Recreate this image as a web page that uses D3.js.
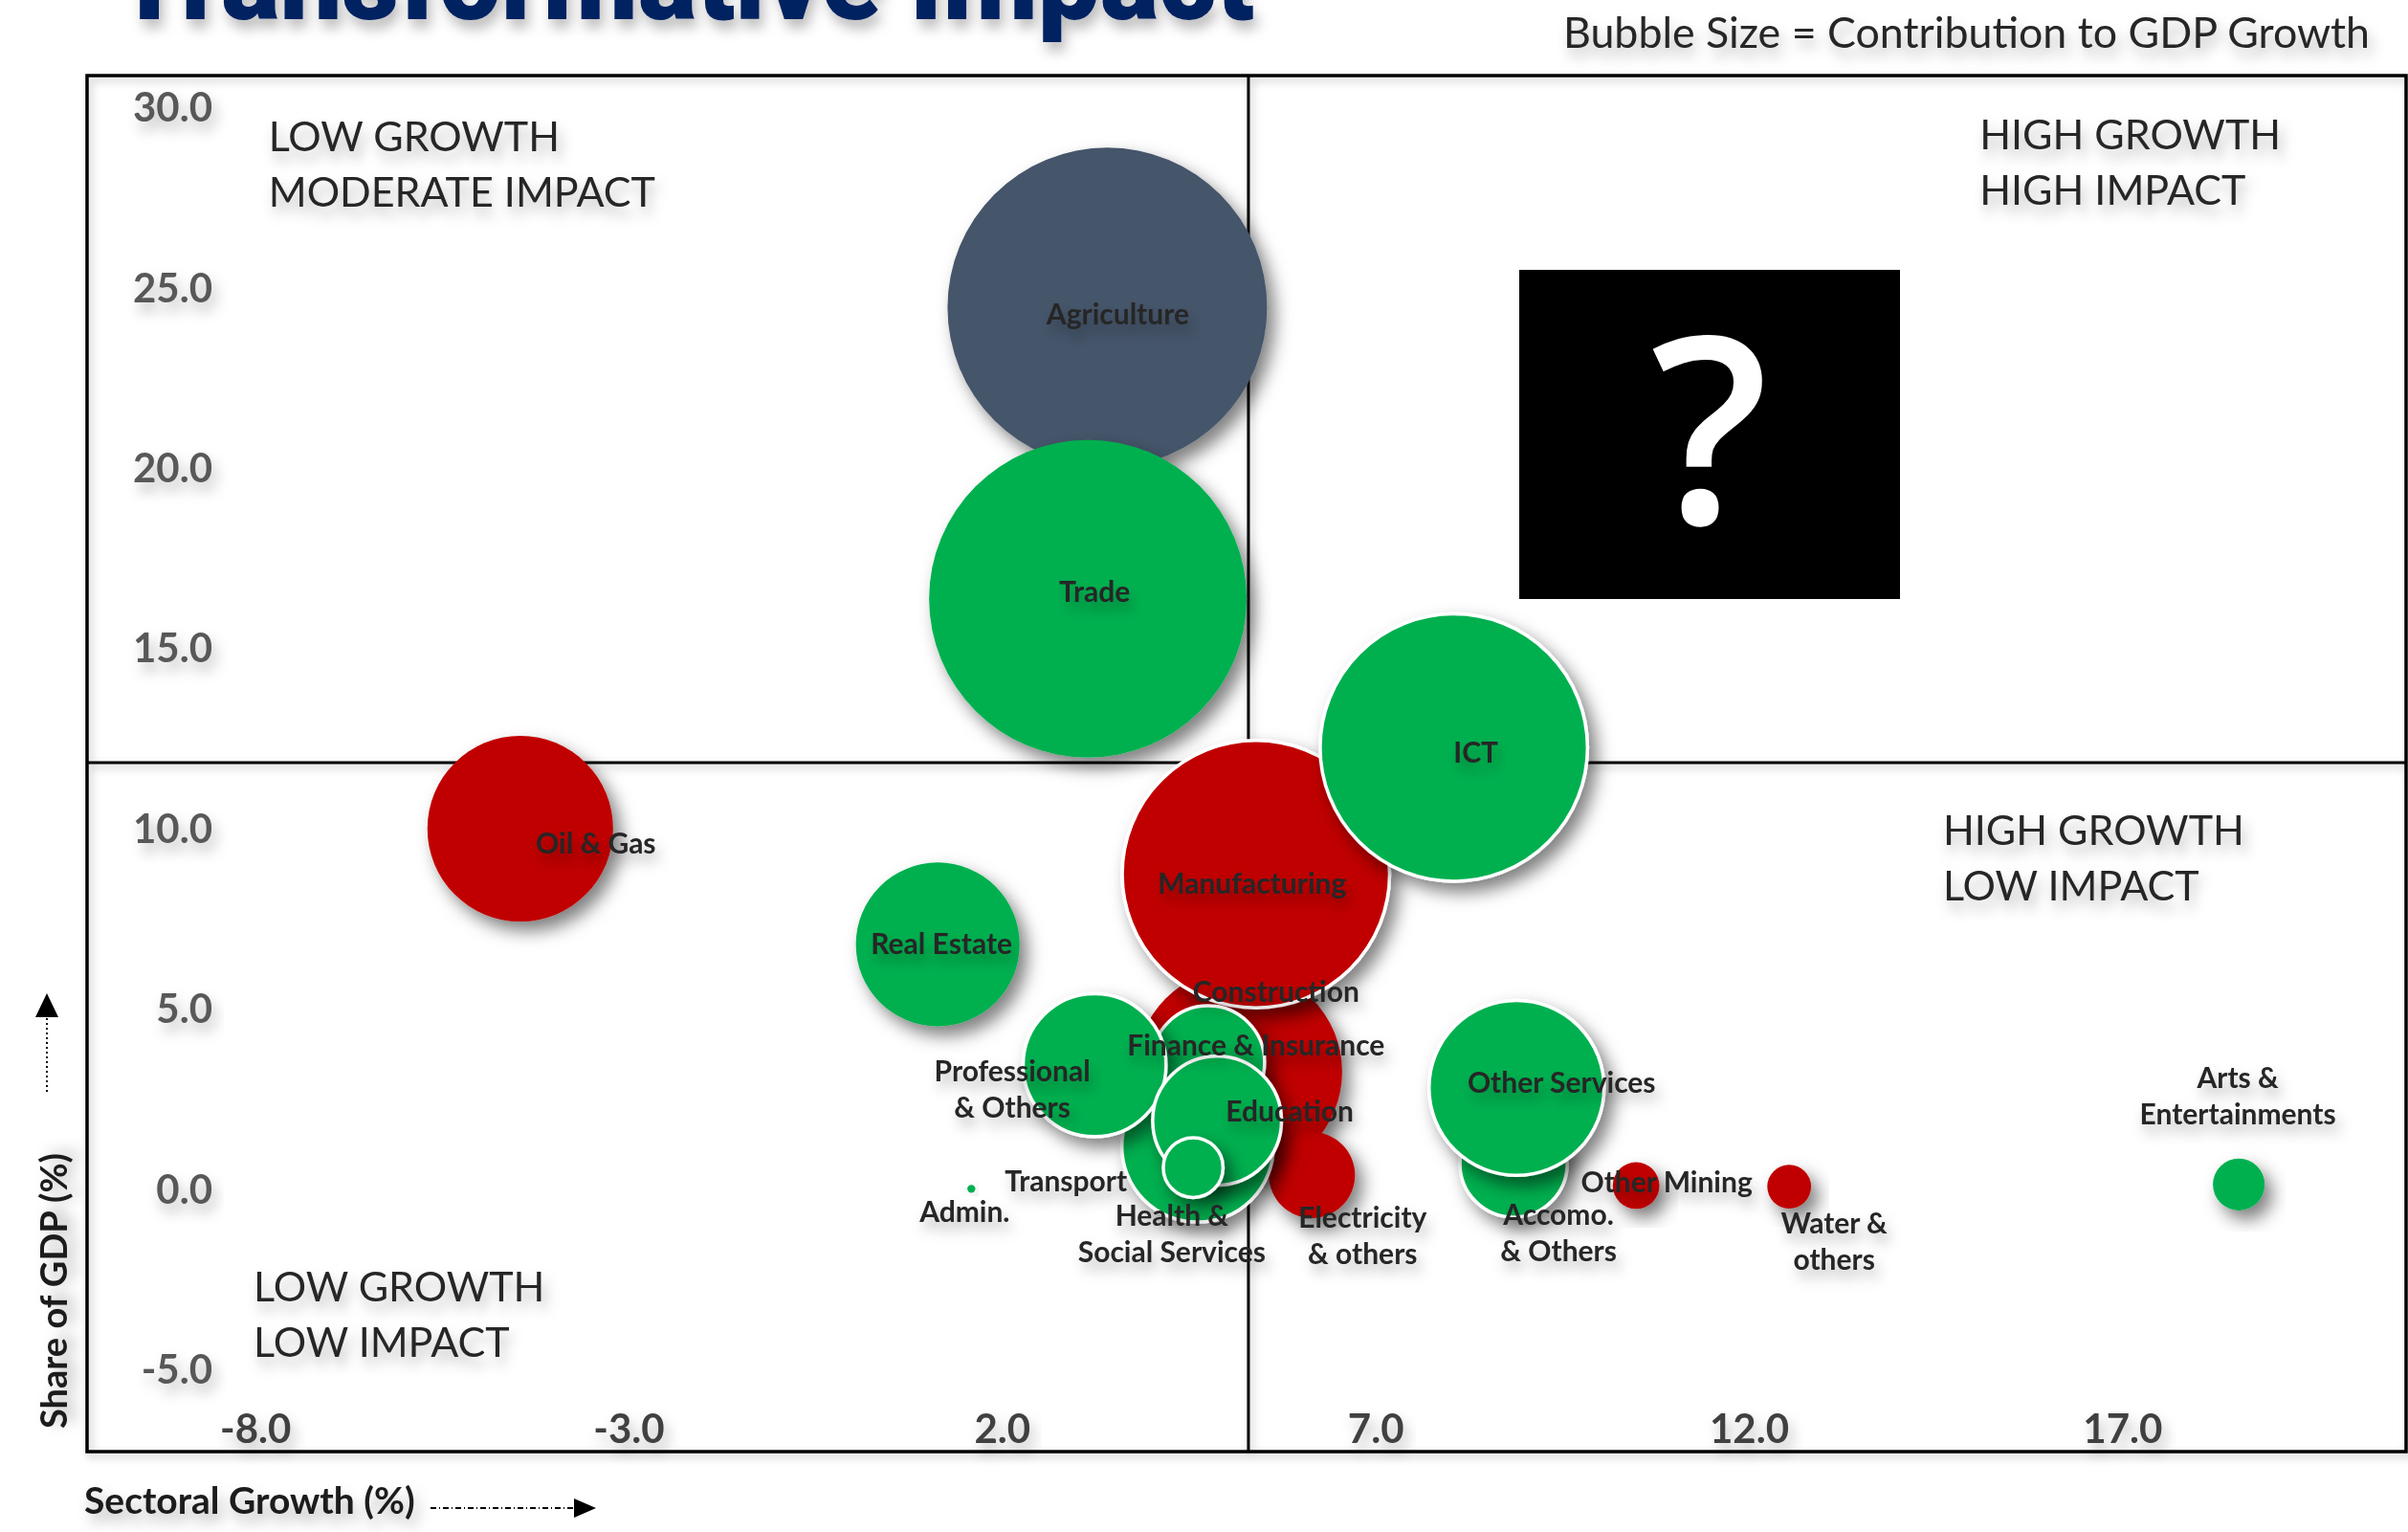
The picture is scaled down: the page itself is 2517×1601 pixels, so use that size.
<!DOCTYPE html>
<html>
<head>
<meta charset="utf-8">
<script src="https://cdn.jsdelivr.net/npm/d3@7"></script>
<style>
  html, body { margin: 0; padding: 0; background: #ffffff; }
  svg { display: block; }
</style>
</head>
<body>
<svg id="chart" width="2517" height="1601"></svg>
<script>
// Sectors, their growth (%), share of GDP (%) and contribution to GDP growth (bubble size)
const sectors = [
  "Agriculture", "Trade", "Oil & Gas", "Real Estate", "Construction", "Electricity & others",
  "Manufacturing", "ICT", "Health & Social Services", "Finance & Insurance",
  "Professional & Others", "Education", "Transport", "Admin.", "Accomo. & Others",
  "Other Services", "Other Mining", "Water & others", "Arts & Entertainments"
];
const labelLines = [
  ["Agriculture"], ["Trade"], ["Oil & Gas"], ["Real Estate"], ["Construction"], ["Electricity", "& others"],
  ["Manufacturing"], ["ICT"], ["Health &", "Social Services"], ["Finance & Insurance"],
  ["Professional", "& Others"], ["Education"], ["Transport"], ["Admin."], ["Accomo.", "& Others"],
  ["Other Services"], ["Other Mining"], ["Water &", "others"], ["Arts &", "Entertainments"]
];
const sectoralGrowth = [3.41, 3.15, -4.45, 1.14, 5.17, 6.15, 5.40, 8.05, 4.62, 4.76, 3.24, 4.88, 4.56, 1.59, 8.85, 8.89, 10.49, 12.54, 18.56];
const shareOfGDP     = [24.45, 16.37, 9.99, 6.78, 3.25, 0.38, 8.73, 12.24, 1.18, 3.51, 3.43, 1.89, 0.59, 0.00, 0.70, 2.80, 0.09, 0.06, 0.12];
const contribution   = [0.80, 0.79, 0.27, 0.21, 0.335, 0.058, 0.56, 0.56, 0.18, 0.10, 0.16, 0.13, 0.028, 0.0005, 0.09, 0.24, 0.017, 0.015, 0.021];
const sectorGroup    = ["primary", "services", "industry", "services", "industry", "industry", "industry", "services", "services", "services",
                        "services", "services", "services", "services", "services", "services", "industry", "industry", "services"];

// Axis ticks and quadrant dividers
const xTickValues = [-8, -3, 2, 7, 12, 17];
const yTickValues = [-5, 0, 5, 10, 15, 20, 25, 30];
const growthDivider = 5.30;
const shareDivider = 11.82;

const quadrantNames = [
  { lines: ["LOW GROWTH", "MODERATE IMPACT"], g: -7.82, s: 29.18 },
  { lines: ["HIGH GROWTH", "HIGH IMPACT"],    g: 15.09, s: 29.24 },
  { lines: ["HIGH GROWTH", "LOW IMPACT"],     g: 14.60, s: 9.94 },
  { lines: ["LOW GROWTH", "LOW IMPACT"],      g: -8.02, s: -2.72 }
];

// ---- styling / layout ----
const W = 2517, H = 1601;
const plot = { left: 91, top: 79, right: 2515, bottom: 1517 };
const groupFill = { primary: "#44546A", services: "#00B050", industry: "#C00000" };
const outlined = new Set(["Manufacturing", "ICT", "Health & Social Services", "Finance & Insurance",
  "Professional & Others", "Education", "Transport", "Accomo. & Others", "Other Services"]);
// label placement relative to bubble centre (px)
const labelNudge = {
  "Agriculture": [11, 7], "Trade": [7, -7], "ICT": [23, 5], "Manufacturing": [-4, 10],
  "Oil & Gas": [79, 15], "Real Estate": [4, 0], "Construction": [39, -83],
  "Finance & Insurance": [50, -18], "Professional & Others": [-86, 25], "Education": [76, -10],
  "Transport": [-133, 14], "Admin.": [-7, 24], "Health & Social Services": [-27, 92],
  "Electricity & others": [53, 63], "Other Services": [47, -5], "Accomo. & Others": [47, 73],
  "Other Mining": [32, -3], "Water & others": [47, 57], "Arts & Entertainments": [-1, -92]
};
const labelFont = "Lato, 'Open Sans', 'Noto Sans', sans-serif";

const data = sectors.map((name, i) => ({
  name, lines: labelLines[i], growth: sectoralGrowth[i], share: shareOfGDP[i],
  size: contribution[i], group: sectorGroup[i]
}));

const x = d3.scaleLinear().domain([-10.25, 20.8]).range([plot.left, plot.right]);
const y = d3.scaleLinear().domain([-7.29, 30.88]).range([plot.bottom, plot.top]);
const r = d3.scaleSqrt().domain([0, 0.80]).range([0, 167]);

const svg = d3.select("#chart");
const defs = svg.append("defs");
defs.append("filter").attr("id", "bubbleShadow")
  .attr("x", "-40%").attr("y", "-40%").attr("width", "180%").attr("height", "180%")
  .append("feDropShadow").attr("dx", 8).attr("dy", 10).attr("stdDeviation", 9)
  .attr("flood-color", "#000").attr("flood-opacity", 0.5);
defs.append("filter").attr("id", "textShadow")
  .attr("x", "-20%").attr("y", "-60%").attr("width", "140%").attr("height", "260%")
  .append("feDropShadow").attr("dx", 4).attr("dy", 9).attr("stdDeviation", 7)
  .attr("flood-color", "#000").attr("flood-opacity", 0.28);
defs.append("filter").attr("id", "lineShadow")
  .attr("x", "-5%").attr("y", "-5%").attr("width", "110%").attr("height", "110%")
  .append("feDropShadow").attr("dx", 3).attr("dy", 4).attr("stdDeviation", 4)
  .attr("flood-color", "#000").attr("flood-opacity", 0.25);

svg.append("rect").attr("width", W).attr("height", H).attr("fill", "#ffffff");

// Title (runs off the top edge)
svg.append("text")
  .attr("x", 120).attr("y", 20)
  .attr("textLength", 1191).attr("lengthAdjust", "spacingAndGlyphs")
  .attr("font-family", "Roboto, 'Liberation Sans', sans-serif")
  .attr("font-weight", 900).attr("font-size", 118)
  .attr("fill", "#002060")
  .attr("filter", "url(#textShadow)")
  .text("Transformative Impact");

svg.append("text")
  .attr("x", 1634).attr("y", 50)
  .attr("textLength", 843).attr("lengthAdjust", "spacingAndGlyphs")
  .attr("font-family", labelFont).attr("font-size", 44)
  .attr("fill", "#262626")
  .attr("filter", "url(#textShadow)")
  .text("Bubble Size = Contribution  to GDP Growth");

// Plot frame and quadrant dividers
const frame = svg.append("g").attr("filter", "url(#lineShadow)");
frame.append("rect")
  .attr("x", plot.left).attr("y", plot.top)
  .attr("width", plot.right - plot.left).attr("height", plot.bottom - plot.top)
  .attr("fill", "none").attr("stroke", "#000").attr("stroke-width", 3.5);
frame.append("line")
  .attr("x1", x(growthDivider)).attr("x2", x(growthDivider))
  .attr("y1", plot.top).attr("y2", plot.bottom)
  .attr("stroke", "#000").attr("stroke-width", 3);
frame.append("line")
  .attr("x1", plot.left).attr("x2", plot.right)
  .attr("y1", y(shareDivider)).attr("y2", y(shareDivider))
  .attr("stroke", "#000").attr("stroke-width", 3);

// Axes: labels sit inside the plot area
const xAxis = svg.append("g")
  .attr("transform", `translate(0, ${y(-6.65)})`)
  .call(d3.axisBottom(x).tickValues(xTickValues).tickSize(0).tickPadding(0).tickFormat(d => d.toFixed(1)));
xAxis.select(".domain").remove();
xAxis.selectAll("text")
  .attr("y", 0).attr("dy", "0.35em")
  .attr("font-family", labelFont).attr("font-weight", 700).attr("font-size", 42)
  .attr("fill", "#404040").attr("filter", "url(#textShadow)");

const yAxis = svg.append("g")
  .attr("transform", `translate(222, 0)`)
  .call(d3.axisLeft(y).tickValues(yTickValues).tickSize(0).tickPadding(0).tickFormat(d => d.toFixed(1)));
yAxis.select(".domain").remove();
yAxis.selectAll("text")
  .attr("x", 0).attr("dy", "0.35em")
  .attr("font-family", labelFont).attr("font-weight", 700).attr("font-size", 42)
  .attr("fill", "#595959").attr("filter", "url(#textShadow)");

// Quadrant captions
quadrantNames.forEach(q => {
  const t = svg.append("text")
    .attr("x", x(q.g)).attr("y", y(q.s))
    .attr("font-family", labelFont).attr("font-size", 43)
    .attr("fill", "#262626").attr("filter", "url(#textShadow)");
  q.lines.forEach((line, k) => {
    t.append("tspan").attr("x", x(q.g)).attr("dy", k === 0 ? "0.35em" : 58).text(line);
  });
});

// Bubbles
svg.append("g").selectAll("circle")
  .data(data)
  .join("circle")
  .attr("cx", d => x(d.growth))
  .attr("cy", d => y(d.share))
  .attr("r", d => r(d.size))
  .attr("fill", d => groupFill[d.group])
  .attr("stroke", d => outlined.has(d.name) ? "#ffffff" : "none")
  .attr("stroke-width", 3.5)
  .attr("filter", "url(#bubbleShadow)");

// Data labels
const labels = svg.append("g").selectAll("text")
  .data(data)
  .join("text")
  .attr("font-family", labelFont).attr("font-weight", 700).attr("font-size", 30)
  .attr("fill", "#262626").attr("text-anchor", "middle")
  .attr("filter", "url(#textShadow)");
labels.each(function(d) {
  const [dx, dy] = labelNudge[d.name] || [0, 0];
  const cx = x(d.growth) + dx;
  const lineGap = 38;
  const startY = y(d.share) + dy - (d.lines.length - 1) * lineGap / 2;
  d3.select(this).selectAll("tspan")
    .data(d.lines)
    .join("tspan")
    .attr("x", cx)
    .attr("y", (l, k) => startY + k * lineGap)
    .attr("dy", "0.35em")
    .text(l => l);
});

// Unknown high-growth/high-impact box
const qBox = svg.append("g");
qBox.append("rect")
  .attr("x", 1588).attr("y", 282).attr("width", 398).attr("height", 344)
  .attr("fill", "#000");
qBox.append("text")
  .attr("x", 1787).attr("y", 547)
  .attr("text-anchor", "middle")
  .attr("font-family", "'Open Sans', 'Noto Sans', sans-serif")
  .attr("font-weight", 600).attr("font-size", 272)
  .attr("fill", "#ffffff")
  .text("?");

// Axis titles with arrows
svg.append("text")
  .attr("x", 88).attr("y", 1568).attr("dy", "0.35em")
  .attr("font-family", labelFont).attr("font-weight", 700).attr("font-size", 39)
  .attr("fill", "#1a1a1a").attr("filter", "url(#textShadow)")
  .text("Sectoral Growth (%)");
svg.append("line")
  .attr("x1", 450).attr("x2", 602).attr("y1", 1576).attr("y2", 1576)
  .attr("stroke", "#000").attr("stroke-width", 2).attr("stroke-dasharray", "6 3 1 3");
svg.append("path")
  .attr("d", "M600,1566 L623,1576 L600,1586 Z").attr("fill", "#000");

svg.append("text")
  .attr("transform", "translate(57, 1349) rotate(-90)")
  .attr("text-anchor", "middle").attr("dy", "0.35em")
  .attr("font-family", labelFont).attr("font-weight", 700).attr("font-size", 38)
  .attr("fill", "#1a1a1a").attr("filter", "url(#textShadow)")
  .text("Share of GDP (%)");
svg.append("line")
  .attr("x1", 49).attr("x2", 49).attr("y1", 1141).attr("y2", 1060)
  .attr("stroke", "#000").attr("stroke-width", 2).attr("stroke-dasharray", "2 3");
svg.append("path")
  .attr("d", "M37,1063 L49,1038 L61,1063 Z").attr("fill", "#000");
</script>
</body>
</html>
